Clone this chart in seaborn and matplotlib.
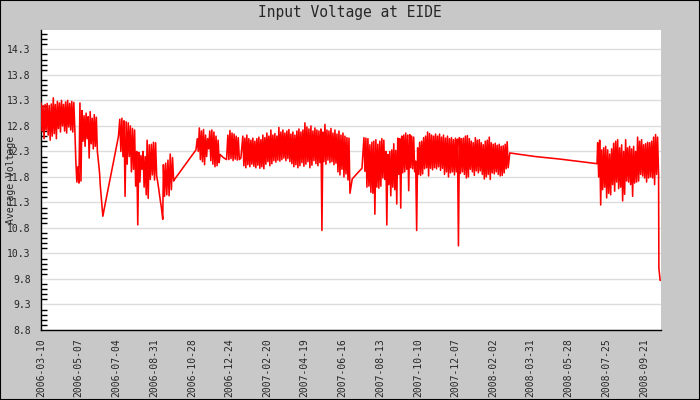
import numpy as np
import pandas as pd
import matplotlib
matplotlib.use("Agg")
import matplotlib.pyplot as plt
import seaborn as sns
from matplotlib.patches import Rectangle
from matplotlib.ticker import MultipleLocator

TITLE = "Input Voltage at EIDE"
Y_LABEL = "Average Voltage"
X_TICKS = ["2006-03-10", "2006-05-07", "2006-07-04", "2006-08-31", "2006-10-28",
           "2006-12-24", "2007-02-20", "2007-04-19", "2007-06-16", "2007-08-13",
           "2007-10-10", "2007-12-07", "2008-02-02", "2008-03-31", "2008-05-28",
           "2008-07-25", "2008-09-21"]
Y_TICKS = [8.8, 9.3, 9.8, 10.3, 10.8, 11.3, 11.8, 12.3, 12.8, 13.3, 13.8, 14.3]

# ---- dense bands: (start, end, highs, lows) ----
B1_RANGE = ("2006-03-10", "2006-06-03")
B1_HI = [13.25, 13.2, 13.22, 13.24, 13.2, 13.23, 13.35, 13.22, 13.28, 13.25, 13.3, 13.22, 13.27, 13.3,
         13.24, 13.28, 13.26, 12.1, 12.0, 13.25, 13.1, 13.0, 13.05, 12.98, 13.08, 12.95, 13.02, 12.97]
B1_LO = [12.7, 12.55, 12.72, 12.62, 12.52, 12.6, 12.65, 12.55, 12.75, 12.68, 12.8, 12.7, 12.66, 12.78,
         12.72, 12.68, 12.74, 11.7, 11.68, 11.72, 12.5, 12.4, 12.55, 12.17, 12.45, 12.35, 12.4, 12.3]
S1_DATES = ["2006-06-06", "2006-06-08", "2006-06-09", "2006-06-13", "2006-06-17", "2006-06-22",
            "2006-06-27", "2006-07-02", "2006-07-07"]
S1_VALS = [12.13, 11.87, 11.64, 11.03, 11.3, 11.62, 11.95, 12.27, 12.6]

B2_RANGE = ("2006-07-09", "2006-08-17")
B2_HI = [12.93, 12.95, 12.9, 12.88, 12.86, 12.8, 12.75, 12.72, 12.3, 12.28, 12.22, 12.3, 12.2]
B2_LO = [12.3, 12.2, 11.42, 12.05, 12.2, 11.9, 11.95, 11.62, 10.86, 11.7, 11.95, 11.6, 11.45]

B3_RANGE = ("2006-08-20", "2006-09-02")
B3_HI = [12.52, 12.43, 12.44, 12.48, 12.47]
B3_LO = [11.38, 11.75, 11.84, 11.74, 11.82]
S3_DATES = ["2006-09-05", "2006-09-07", "2006-09-09", "2006-09-11", "2006-09-13"]
S3_VALS = [11.72, 11.55, 11.36, 11.19, 10.97]

B4_RANGE = ("2006-09-14", "2006-09-28")
B4_HI = [12.04, 12.07, 12.13, 12.25, 12.18]
B4_LO = [11.42, 11.45, 11.43, 11.55, 11.72]
S4_DATES = ["2006-10-01", "2006-11-03"]
S4_VALS = [11.75, 12.33]

B5_RANGE = ("2006-11-05", "2006-12-07")
B5_HI = [12.55, 12.76, 12.7, 12.73, 12.62, 12.55, 12.7, 12.72, 12.68, 12.6, 12.52]
B5_LO = [12.3, 12.14, 12.1, 12.04, 12.2, 12.35, 12.12, 12.05, 12.0, 12.02, 12.08]
S5_DATES = ["2006-12-10", "2006-12-15", "2006-12-20"]
S5_VALS = [12.24, 12.18, 12.14]

B6_RANGE = ("2006-12-22", "2007-01-07")
B6_HI = [12.62, 12.71, 12.66, 12.64, 12.6, 12.57]
B6_LO = [12.14, 12.16, 12.12, 12.15, 12.13, 12.14]
S6_DATES = ["2007-01-11"]
S6_VALS = [12.17]

B7_RANGE = ("2007-01-14", "2007-06-26")
B7_HI = [12.6, 12.56, 12.62, 12.55, 12.52, 12.56, 12.5, 12.55, 12.58, 12.53,
         12.62, 12.57, 12.66, 12.6, 12.72, 12.62, 12.65, 12.6, 12.77, 12.68,
         12.72, 12.66, 12.7, 12.73, 12.64, 12.68, 12.62, 12.7, 12.74, 12.68,
         12.72, 12.86, 12.78, 12.74, 12.8, 12.7, 12.76, 12.72, 12.7, 12.74,
         12.68, 12.83, 12.72, 12.7, 12.75, 12.66, 12.72, 12.64, 12.7, 12.62,
         12.66, 12.6, 12.57, 12.56]
B7_LO = [12.02, 11.98, 12.04, 12.0, 12.05, 12.01, 11.98, 12.03, 11.97, 12.0,
         11.96, 12.05, 12.1, 12.02, 12.06, 12.12, 12.09, 12.13, 12.11, 12.14,
         12.17, 12.12, 12.16, 12.1, 12.06, 12.0, 12.04, 11.98, 12.02, 12.08,
         12.01, 12.05, 12.1, 11.98, 12.03, 12.12, 12.06, 12.02, 12.08, 10.75,
         12.1, 12.05, 12.13, 12.08, 12.1, 12.04, 12.07, 11.9, 11.84, 11.95,
         11.8, 11.86, 11.74, 11.48]
S7_DATES = ["2007-07-01", "2007-07-08", "2007-07-16"]
S7_VALS = [11.76, 11.86, 11.97]

B8_RANGE = ("2007-07-19", "2008-02-24")
B8_HI = [12.57, 12.56, 12.55, 12.43, 12.48, 12.5, 12.53, 12.44, 12.5, 12.55,
         12.52, 12.3, 12.24, 12.3, 12.33, 12.45, 12.32, 12.56, 12.55, 12.6,
         12.62, 12.66, 12.62, 12.63, 12.6, 12.58, 12.11, 12.37, 12.48, 12.5,
         12.57, 12.6, 12.68, 12.65, 12.62, 12.6, 12.64, 12.6, 12.64, 12.58,
         12.62, 12.56, 12.6, 12.55, 12.57, 12.53, 12.56, 12.54, 12.57, 12.55,
         12.56, 12.6, 12.61, 12.55, 12.5, 12.47, 12.57, 12.52, 12.53, 12.47,
         12.43, 12.5, 12.52, 12.58, 12.47, 12.44, 12.46, 12.42, 12.44, 12.4,
         12.41, 12.44, 12.49]
B8_LO = [11.91, 11.6, 11.62, 11.5, 11.48, 11.07, 11.6, 11.58, 11.62, 11.78,
         11.75, 10.86, 11.65, 11.43, 11.6, 11.55, 11.27, 11.85, 11.19, 11.88,
         11.9, 11.95, 11.53, 11.98, 11.96, 11.9, 10.75, 11.85, 11.83, 11.86,
         11.96, 11.98, 11.82, 11.97, 11.94, 11.98, 11.96, 12.0, 11.93, 11.97,
         11.85, 11.9, 11.8, 11.88, 11.9, 11.84, 11.9, 10.45, 11.87, 11.9,
         11.85, 11.78, 11.8, 11.95, 11.9, 11.83, 11.92, 11.88, 11.92, 11.85,
         11.76, 11.8, 11.85, 11.75, 11.88, 11.86, 11.9, 11.85, 11.82, 11.83,
         11.88, 11.96, 11.98]
S8_DATES = ["2008-02-28", "2008-04-07", "2008-05-15", "2008-07-11"]
S8_VALS = [12.27, 12.2, 12.15, 12.06]

B9_RANGE = ("2008-07-12", "2008-10-12")
B9_HI = [12.47, 12.52, 12.33, 12.37, 12.4, 12.33, 12.25, 12.35, 12.46, 12.5,
         12.53, 12.37, 12.43, 12.3, 12.53, 12.37, 12.4, 12.35, 12.4, 12.3,
         12.58, 12.5, 12.53, 12.43, 12.45, 12.48, 12.47, 12.5, 12.58, 12.63, 12.58]
B9_LO = [11.8, 11.25, 11.55, 11.6, 11.39, 11.48, 11.45, 11.65, 11.52, 11.7,
         11.57, 11.6, 11.33, 11.46, 11.72, 11.7, 11.65, 11.42, 11.68, 11.7,
         11.72, 11.85, 11.82, 11.78, 11.7, 11.78, 11.8, 11.78, 11.65, 11.85, 11.84]
S9_DATES = ["2008-10-14", "2008-10-16"]
S9_VALS = [10.01, 9.77]


def band_points(rng, hi, lo):
    t = pd.date_range(rng[0], rng[1], periods=len(hi))
    step = (t[-1] - t[0]) / (len(hi) - 1)
    d, v = [], []
    for ti, h, l in zip(t, hi, lo):
        d += [ti, ti + step / 2]
        v += [h, l]
    return d, v


pieces = [
    band_points(B1_RANGE, B1_HI, B1_LO), (pd.to_datetime(S1_DATES), S1_VALS),
    band_points(B2_RANGE, B2_HI, B2_LO),
    band_points(B3_RANGE, B3_HI, B3_LO), (pd.to_datetime(S3_DATES), S3_VALS),
    band_points(B4_RANGE, B4_HI, B4_LO), (pd.to_datetime(S4_DATES), S4_VALS),
    band_points(B5_RANGE, B5_HI, B5_LO), (pd.to_datetime(S5_DATES), S5_VALS),
    band_points(B6_RANGE, B6_HI, B6_LO), (pd.to_datetime(S6_DATES), S6_VALS),
    band_points(B7_RANGE, B7_HI, B7_LO), (pd.to_datetime(S7_DATES), S7_VALS),
    band_points(B8_RANGE, B8_HI, B8_LO), (pd.to_datetime(S8_DATES), S8_VALS),
    band_points(B9_RANGE, B9_HI, B9_LO), (pd.to_datetime(S9_DATES), S9_VALS),
]
dates, vals = [], []
for d, v in pieces:
    dates += list(d)
    vals += list(v)
df = pd.DataFrame({"date": pd.to_datetime(dates), "volt": vals})

sns.set_style("white")
plt.rcParams["font.family"] = ["DejaVu Sans Mono", "DejaVu Sans"]

fig = plt.figure(figsize=(7, 4), dpi=100, facecolor="#c8c8c8")
ax = fig.add_axes([41 / 700, 70 / 400, 620 / 700, 300 / 400])
ax.set_facecolor("white")

sns.lineplot(data=df, x="date", y="volt", sort=False, estimator=None,
             color="#ff0000", lw=1.15, ax=ax, zorder=3)

ax.set_xlim(pd.Timestamp("2006-03-10"), pd.Timestamp("2008-10-17 06:00"))
ax.set_ylim(8.8, 14.68)

ax.set_xticks(pd.to_datetime(X_TICKS))
ax.set_xticklabels(X_TICKS, rotation=90, fontsize=7)
ax.set_yticks(Y_TICKS)
ax.set_yticklabels([f"{t:.1f}" for t in Y_TICKS], fontsize=7)
ax.yaxis.set_minor_locator(MultipleLocator(0.1))

ax.tick_params(axis="x", direction="in", length=5, width=1, pad=6, color="black")
ax.tick_params(axis="y", which="major", direction="inout", length=9, width=1, pad=3, color="black")
ax.tick_params(axis="y", which="minor", direction="in", length=4, width=1, color="black", left=True)

ax.grid(axis="y", which="major", color="#dcdcdc", lw=1)
ax.grid(axis="x", visible=False)
ax.set_axisbelow(True)

for s in ["top", "right"]:
    ax.spines[s].set_visible(False)
for s in ["left", "bottom"]:
    ax.spines[s].set_color("black")
    ax.spines[s].set_linewidth(1)

ax.set_xlabel("")
ax.set_ylabel(Y_LABEL, fontsize=7, va="center")
ax.yaxis.set_label_coords(-0.048, 0.5)

fig.text(0.5, 1 - 13 / 400, TITLE, ha="center", va="center", fontsize=10.5)
fig.add_artist(Rectangle((0, 0), 1, 1, transform=fig.transFigure, fill=False,
                         ec="black", lw=1.5))

fig.savefig("out.png", dpi=100, facecolor=fig.get_facecolor())
